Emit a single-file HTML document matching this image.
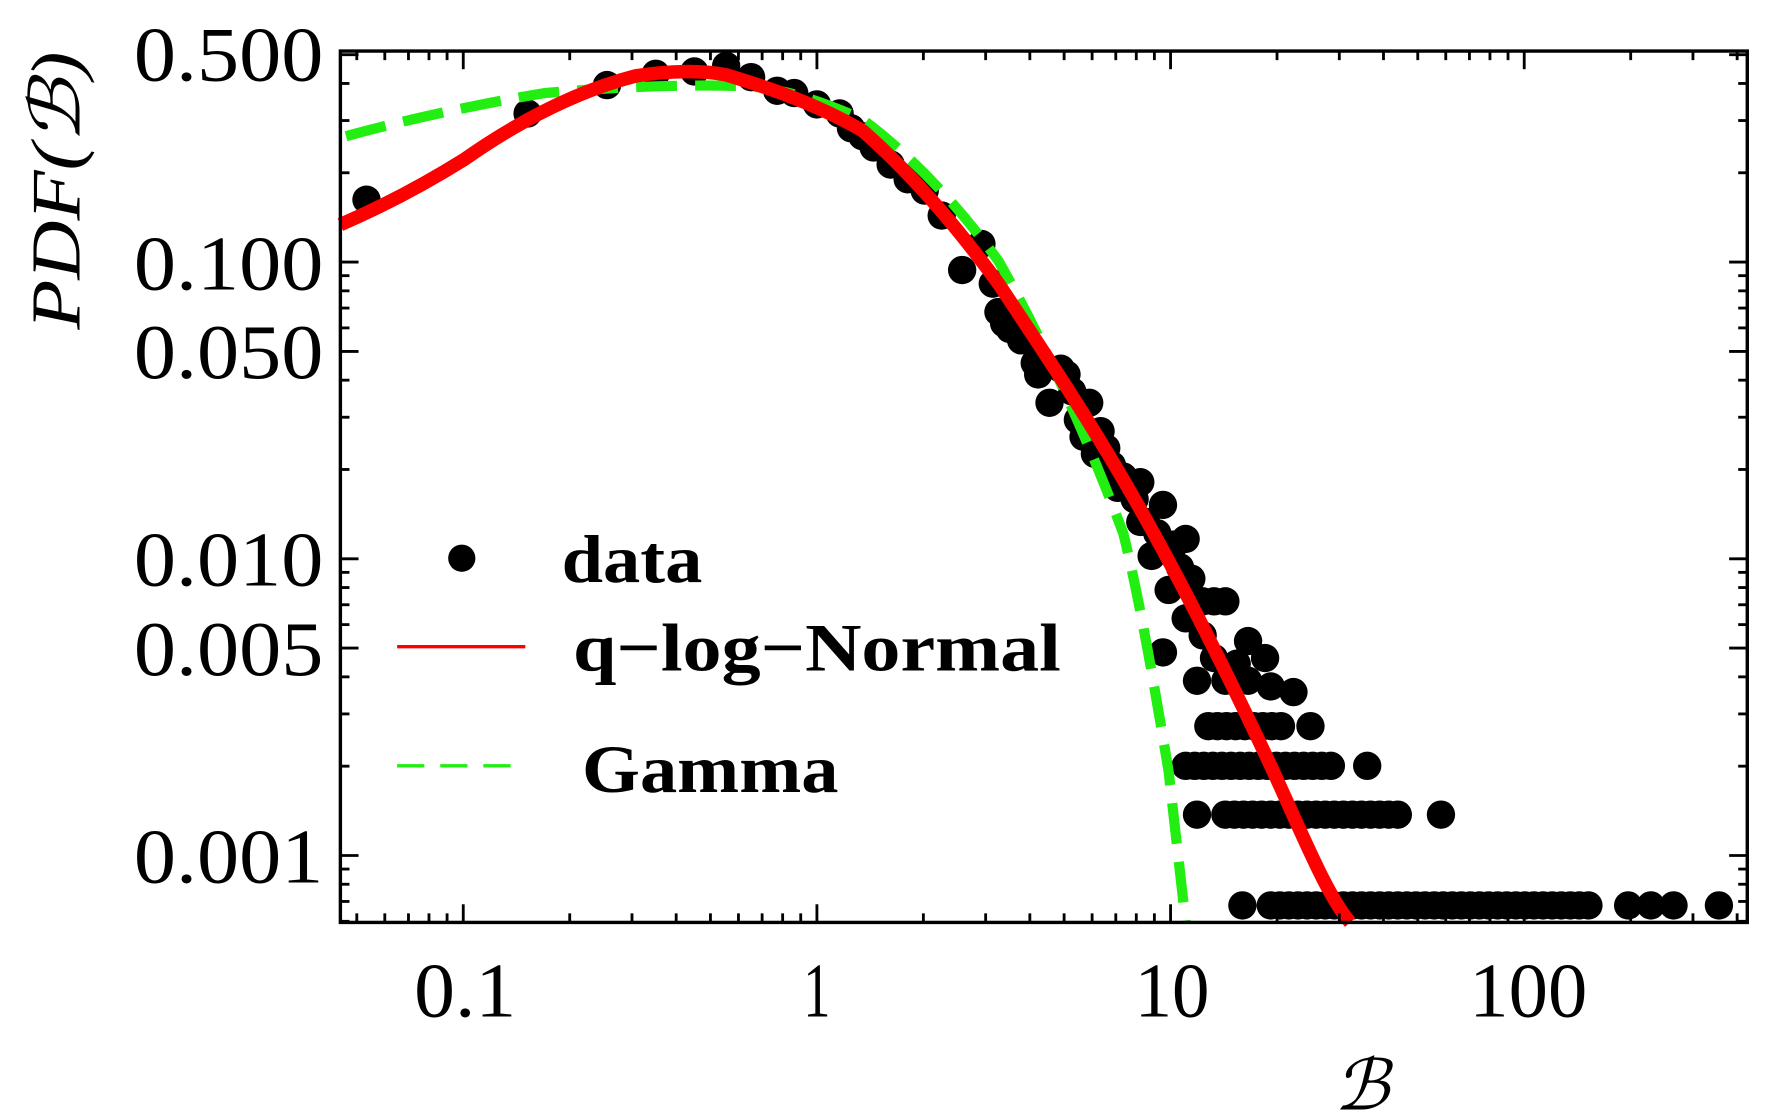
<!DOCTYPE html>
<html><head><meta charset="utf-8"><style>
html,body{margin:0;padding:0;background:#fff;width:1770px;height:1117px;overflow:hidden}
svg{display:block}
text{font-family:"Liberation Serif","DejaVu Serif",serif;fill:#000}
</style></head><body>
<svg width="1770" height="1117" viewBox="0 0 1770 1117" xmlns="http://www.w3.org/2000/svg">
<g transform="scale(1.1346)">
<g id="dots"></g>
<path d="M305,120 C360,105 420,92 480,82 C540,77 600,74 660,76 C700,80 730,92 760,105 C800,135 840,175 880,230 C920,300 960,390 990,470 C1005,530 1020,620 1030,680 L1045,813" fill="none" stroke="#22ee11" stroke-width="9" stroke-dasharray="36,16"/>
<path d="M300,198 C330,185 370,165 410,140 C460,105 510,80 560,67 C590,62 620,62 640,66 C680,78 720,92 760,115 C800,150 840,195 880,250 C920,310 960,370 1000,440 C1040,510 1080,590 1120,675 C1150,740 1170,790 1190,813" fill="none" stroke="#ff0000" stroke-width="12"/>
<rect x="300" y="45" width="1240" height="768" fill="none" stroke="#000" stroke-width="3"/>
<g id="ticks" stroke="#000" stroke-width="2.5"></g>
<g font-size="68">
<text x="285" y="71" text-anchor="end" textLength="167" lengthAdjust="spacingAndGlyphs">0.500</text>
<text x="285" y="255" text-anchor="end" textLength="167" lengthAdjust="spacingAndGlyphs">0.100</text>
<text x="285" y="333" text-anchor="end" textLength="167" lengthAdjust="spacingAndGlyphs">0.050</text>
<text x="285" y="516" text-anchor="end" textLength="167" lengthAdjust="spacingAndGlyphs">0.010</text>
<text x="285" y="595" text-anchor="end" textLength="167" lengthAdjust="spacingAndGlyphs">0.005</text>
<text x="285" y="778" text-anchor="end" textLength="167" lengthAdjust="spacingAndGlyphs">0.001</text>
<text x="410" y="896" text-anchor="middle" textLength="90" lengthAdjust="spacingAndGlyphs">0.1</text>
<text x="720" y="896" text-anchor="middle" textLength="24" lengthAdjust="spacingAndGlyphs">1</text>
<text x="1033" y="896" text-anchor="middle" textLength="66" lengthAdjust="spacingAndGlyphs">10</text>
<text x="1347" y="896" text-anchor="middle" textLength="104" lengthAdjust="spacingAndGlyphs">100</text>
</g>
<text transform="translate(70,168) rotate(-90)" text-anchor="middle" font-size="62" font-style="italic" textLength="245" lengthAdjust="spacingAndGlyphs">PDF(ℬ)</text>
<text x="1200" y="978" text-anchor="middle" font-size="62" font-style="italic">ℬ</text>
<circle cx="407" cy="492" r="12" fill="#000"/>
<text x="495" y="513" font-size="60" font-weight="bold" textLength="124" lengthAdjust="spacingAndGlyphs">data</text>
<line x1="350" y1="570" x2="463" y2="570" stroke="#ff0000" stroke-width="3"/>
<text x="505" y="591" font-size="60" font-weight="bold" textLength="430" lengthAdjust="spacingAndGlyphs">q−log−Normal</text>
<line x1="350" y1="675" x2="458" y2="675" stroke="#22ee11" stroke-width="3" stroke-dasharray="24,14"/>
<text x="513" y="698" font-size="60" font-weight="bold" textLength="226" lengthAdjust="spacingAndGlyphs">Gamma</text>
</g>
</svg>
<script>
var NS="http://www.w3.org/2000/svg";
function X(v){return 720+Math.log10(v)*311.7;}
function Y(v){return 754-(Math.log10(v)+3)*261.5;}
var t=document.getElementById("ticks");
function ln(a,b,c,d){var l=document.createElementNS(NS,"line");l.setAttribute("x1",a);l.setAttribute("y1",b);l.setAttribute("x2",c);l.setAttribute("y2",d);t.appendChild(l);}
for(var e=-2;e<=2;e++)for(var k=1;k<10;k++){var v=k*Math.pow(10,e);var x=X(v);if(x<300||x>1540)continue;var L=(k==1)?16:8;ln(x,813,x,813-L);ln(x,45,x,45+L);}
for(var e=-4;e<=0;e++)for(var k=1;k<10;k++){var v=k*Math.pow(10,e);var y=Y(v);if(y<45||y>813)continue;var L=(k==1||k==5)?16:8;ln(300,y,300+L,y);ln(1540,y,1540-L,y);}
var d=document.getElementById("dots");
function dot(x,y){var c=document.createElementNS(NS,"circle");c.setAttribute("cx",x);c.setAttribute("cy",y);c.setAttribute("r",12.5);c.setAttribute("fill","#000");d.appendChild(c);}
var P=[[323,176],[465,100],[535,75],[578,65],[612,63],[640,58],[662,68],[685,80],[700,82],[720,92],[740,100],[750,113],[760,120],[770,130],[785,145],[800,158],[815,168],[830,190],[848,238],[865,215],[875,250],[880,275],[885,285],[890,290],[900,300],[905,300],[912,320],[915,330],[925,355],[935,325],[940,330],[945,345],[950,370],[955,385],[960,355],[965,400],[970,380],[975,395],[980,410],[985,430],[990,420],[1000,440],[1005,460],[1010,460],[1020,470],[1025,445],[1035,480],[1045,475],[1040,500],[1050,510],[1060,530],[1070,530],[1080,530],[1045,545],[1025,575],[1060,560],[1100,565],[1115,580],[1055,600],[1080,600],[1100,600],[1120,605],[1140,610],[1070,580],[1090,585],[1030,520],[1015,490],[1005,425]];
P.forEach(function(p){dot(p[0],p[1]);});
for(var x=1065;x<=1135;x+=8)dot(x,640);dot(1155,640);
for(var x=1045;x<=1175;x+=8)dot(x,675);dot(1205,675);
dot(1055,718);for(var x=1080;x<=1235;x+=8)dot(x,718);dot(1270,718);
dot(1095,798);for(var x=1120;x<=1400;x+=8)dot(x,798);[1435,1455,1475,1515].forEach(function(x){dot(x,798);});
</script>
</body></html>
